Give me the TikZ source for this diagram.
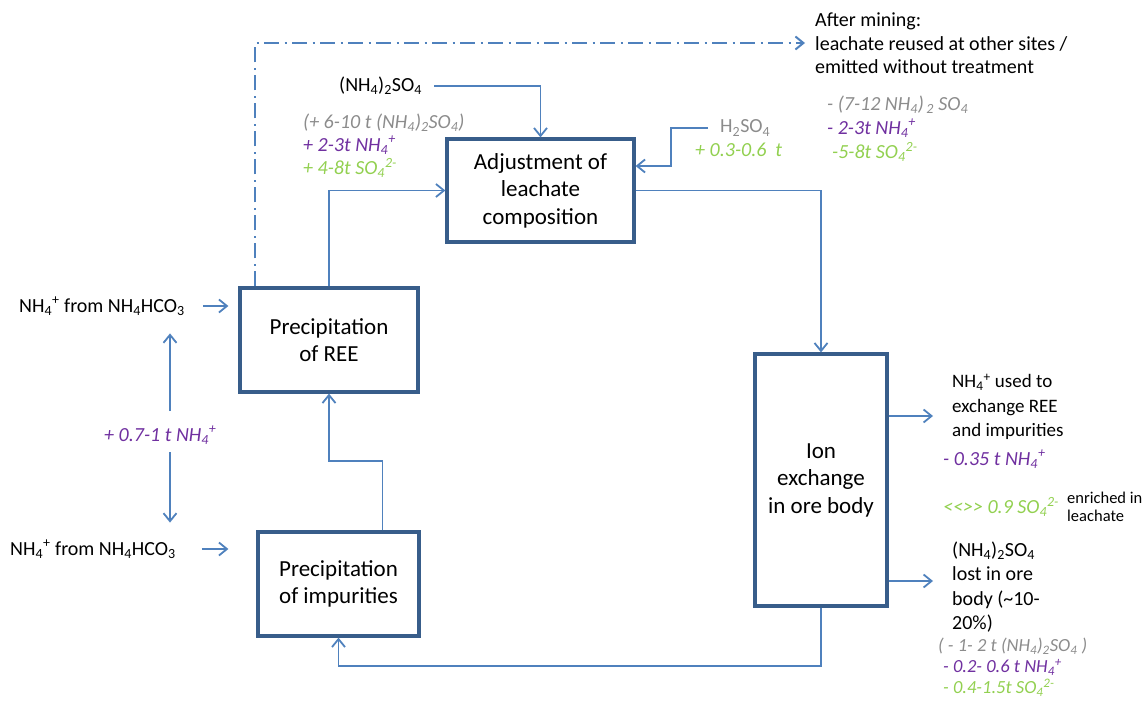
\documentclass[tikz,border=0pt]{standalone}
\usepackage{fontspec}
\setmainfont{Carlito}
\usetikzlibrary{arrows.meta}
\definecolor{linkblue}{HTML}{4F81BD}
\definecolor{boxblue}{HTML}{385D8A}
\definecolor{amgrey}{HTML}{8C8C8C}
\definecolor{nhpurple}{HTML}{7030A0}
\definecolor{sogreen}{HTML}{92D050}

\begin{document}
\begin{tikzpicture}[x=1pt, y=-1pt,
    box/.style={draw=boxblue, line width=3.25pt, fill=white, align=center, inner sep=0pt, font=\fontsize{23}{27.5}\selectfont},
    flow/.style={draw=linkblue, line width=1.8pt, -{Straight Barb[length=8pt,width=13pt]}},
    dashflow/.style={flow, line width=2pt, dash pattern=on 15pt off 5.5pt on 2pt off 5.5pt},
    txt/.style={inner sep=0pt, anchor=west, align=left, font=\fontsize{20}{24.5}\selectfont},
    amount/.style={txt, font=\fontsize{20}{22}\selectfont\itshape}]
        \useasboundingbox (0,0) rectangle (1143,701);

        % Process boxes
        \node[box, minimum width=187pt, minimum height=103pt] (adj) at (540.5,190.5) {Adjustment of\\leachate\\composition};
        \node[box, minimum width=132pt, minimum height=252pt] (ion) at (821,480) {Ion\\exchange\\in ore body};
        \node[box, minimum width=178pt, minimum height=104pt] (ree) at (329,340) {Precipitation\\of REE};
        \node[box, minimum width=161pt, minimum height=104pt] (imp) at (338.5,584) {Precipitation\\of impurities};

        % After mining
        \node[txt, font=\fontsize{20}{23.5}\selectfont] (after) at (815,43.5) {After mining:\\leachate reused at other sites\ /\\emitted without treatment};
        \node[amount, text=amgrey] (aftam) at (827,105) {- (7-12 NH\textsubscript{4})\textsubscript{\,2} SO\textsubscript{4}};
        \node[amount, text=nhpurple] (afnh) at (827,128) {- 2-3t NH\textsubscript{4}\textsuperscript{+}};
        \node[amount, text=sogreen] (afso) at (832,152) {-5-8t SO\textsubscript{4}\textsuperscript{2-}};

        % Ammonium sulphate added
        \node[txt] (ammsulf) at (339,86) {(NH\textsubscript{4})\textsubscript{2}SO\textsubscript{4}};
        \node[amount, text=amgrey] (adam) at (303,123) {(+ 6-10 t (NH\textsubscript{4})\textsubscript{2}SO\textsubscript{4})};
        \node[amount, text=nhpurple] (adnh) at (303,145) {+ 2-3t NH\textsubscript{4}\textsuperscript{+}};
        \node[amount, text=sogreen] (adso) at (303,168) {+ 4-8t SO\textsubscript{4}\textsuperscript{2-}};

        % Sulphuric acid
        \node[txt, text=amgrey] (acid) at (720,128) {H\textsubscript{2}SO\textsubscript{4}};
        \node[amount, text=sogreen] (acidam) at (695,150) {+ 0.3-0.6\ \ t};

        % Bicarbonate inputs
        \node[txt] (src1) at (19,306) {NH\textsubscript{4}\textsuperscript{+} from NH\textsubscript{4}HCO\textsubscript{3}};
        \node[txt] (src2) at (10,549) {NH\textsubscript{4}\textsuperscript{+} from NH\textsubscript{4}HCO\textsubscript{3}};
        \node[amount, text=nhpurple] (amt) at (104,435) {+ 0.7-1 t NH\textsubscript{4}\textsuperscript{+}};

        % Losses in ore body
        \node[txt, font=\fontsize{19}{24.5}\selectfont] (used) at (952,407) {NH\textsubscript{4}\textsuperscript{+} used to\\exchange REE\\and impurities};
        \node[amount, text=nhpurple] (usednh) at (943,459) {- 0.35 t NH\textsubscript{4}\textsuperscript{+}};
        \node[amount, text=sogreen] (usedso) at (943,507) {<\kern0pt<>\kern0pt> 0.9 SO\textsubscript{4}\textsuperscript{2-}};
        \node[txt, font=\fontsize{16.5}{18}\selectfont] (enrich) at (1067,507) {enriched in\\leachate};
        \node[txt] (lost) at (952,587) {(NH\textsubscript{4})\textsubscript{2}SO\textsubscript{4}\\lost in ore\\body (\textasciitilde10-\\20\%)};
        \node[amount, font=\fontsize{18.5}{21}\selectfont\itshape] (lostam) at (938,667.5) {\textcolor{amgrey}{( - 1- 2 t (NH\textsubscript{4})\textsubscript{2}SO\textsubscript{4} )}\\
            \hspace*{5pt}\textcolor{nhpurple}{- 0.2- 0.6 t NH\textsubscript{4}\textsuperscript{+}}\\
            \hspace*{5pt}\textcolor{sogreen}{- 0.4-1.5t SO\textsubscript{4}\textsuperscript{2-}}};

        % Free ends
        \coordinate (aftertip) at (805,43);
        \coordinate (hbend) at (671,166);
        \coordinate (usedtip) at (933,416);
        \coordinate (losttip) at (933,581);
        \coordinate (amtup) at (170,411);
        \coordinate (amtdn) at (170,452);

        % Leachate cycle
        \draw[flow] (ree.north) |- (adj.west);
        \draw[flow] (adj.east) -| (ion.north);
        \draw[flow] (ion.south) -- ++(0,58) -| (imp.south);
        \draw[flow] ([xshift=44pt]imp.north) -- ++(0,-69) -| (ree.south);
        \draw[dashflow] ([xshift=17pt]ree.north west) |- (aftertip);

        % Inputs
        \draw[flow, shorten <=12pt] (ammsulf.east) -| (adj.north);
        \draw[flow, shorten <=12pt] (acid.west) -| (hbend) -- (adj.east |- hbend);
        \draw[flow, shorten <=18pt, shorten >=10pt] (src1.east) -- (src1.east -| ree.west);
        \draw[flow, shorten <=26pt, shorten >=28pt] (src2.east) -- (src2.east -| imp.west);
        \draw[flow, shorten >=18pt] (amtup) -- (amtup |- src1.south);
        \draw[flow, shorten >=17pt] (amtdn) -- (amtdn |- src2.north);

        % Outputs
        \draw[flow] (ion.east |- usedtip) -- (usedtip);
        \draw[flow] (ion.east |- losttip) -- (losttip);
    \end{tikzpicture}
\end{document}
